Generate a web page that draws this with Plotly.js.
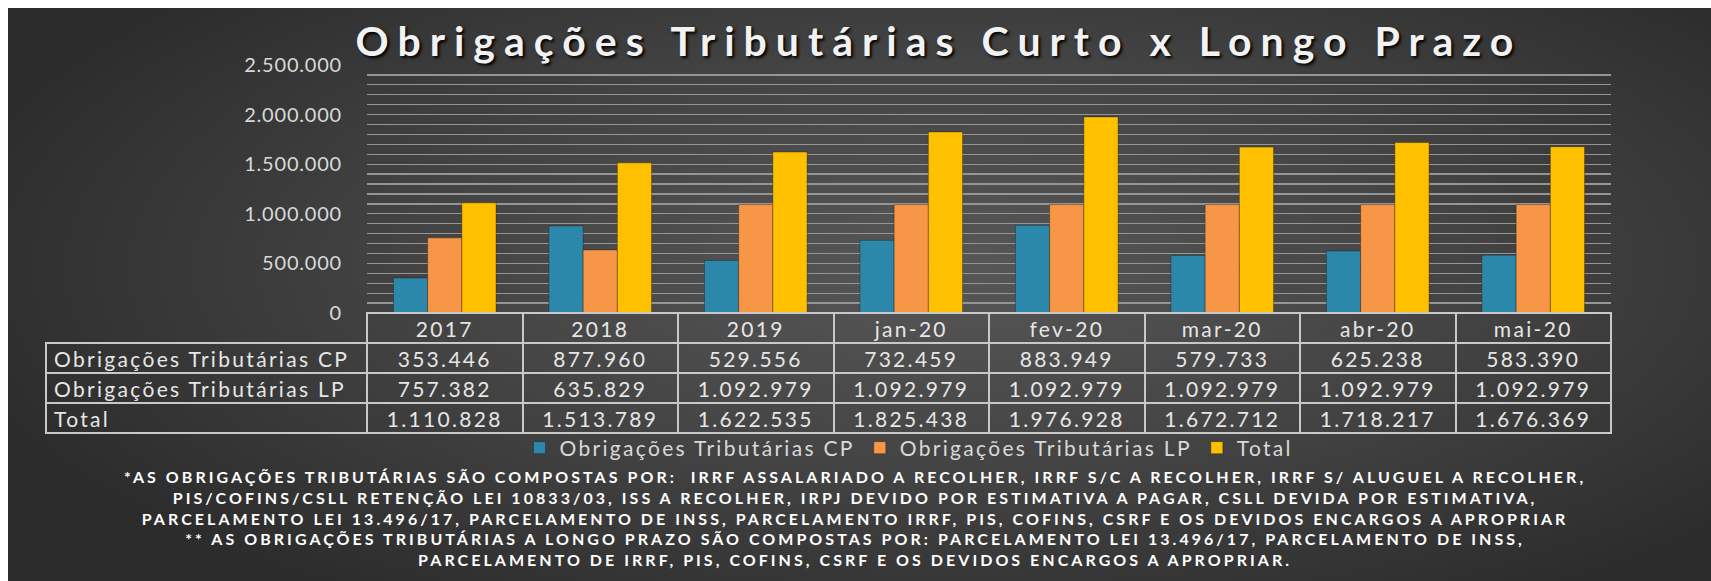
<!DOCTYPE html>
<html>
<head>
<meta charset="utf-8">
<script src="https://cdn.plot.ly/plotly-3.0.1.min.js"></script>
<style>
  html, body { margin: 0; padding: 0; background: #ffffff; }
  #bg { position: absolute; left: 8px; top: 8px; width: 1703px; height: 573px;
        background: radial-gradient(ellipse 60% 70% at 55% 45%, #575757 0%, #444444 50%, #2c2c2c 100%); }
  #chart { position: absolute; left: 0; top: 0; width: 1711px; height: 581px; }
  text { letter-spacing: 0.11em; }
  .ytick text { letter-spacing: 0.04em; }
  text.annotation-text { letter-spacing: 0.19em; }
  text.gtitle { letter-spacing: 9px; }
</style>
</head>
<body>
<div id="bg"></div>
<div id="chart"></div>
<script>
const categories = ['2017', '2018', '2019', 'jan-20', 'fev-20', 'mar-20', 'abr-20', 'mai-20'];
const cpValues = [353446, 877960, 529556, 732459, 883949, 579733, 625238, 583390];
const lpValues = [757382, 635829, 1092979, 1092979, 1092979, 1092979, 1092979, 1092979];
const totalValues = [1110828, 1513789, 1622535, 1825438, 1976928, 1672712, 1718217, 1676369];
const seriesNames = ['Obrigações Tributárias CP', 'Obrigações Tributárias LP', 'Total'];
const yTickVals = [0, 500000, 1000000, 1500000, 2000000, 2500000];
const titleText = 'Obrigações Tributárias Curto x Longo Prazo';
const footnoteLines = [
  '*AS OBRIGAÇÕES TRIBUTÁRIAS SÃO COMPOSTAS POR:  IRRF ASSALARIADO A RECOLHER, IRRF S/C A RECOLHER, IRRF S/ ALUGUEL A RECOLHER,',
  'PIS/COFINS/CSLL RETENÇÃO LEI 10833/03, ISS A RECOLHER, IRPJ DEVIDO POR ESTIMATIVA A PAGAR, CSLL DEVIDA POR ESTIMATIVA,',
  'PARCELAMENTO LEI 13.496/17, PARCELAMENTO DE INSS, PARCELAMENTO IRRF, PIS, COFINS, CSRF E OS DEVIDOS ENCARGOS A APROPRIAR',
  '** AS OBRIGAÇÕES TRIBUTÁRIAS A LONGO PRAZO SÃO COMPOSTAS POR: PARCELAMENTO LEI 13.496/17, PARCELAMENTO DE INSS,',
  'PARCELAMENTO DE IRRF, PIS, COFINS, CSRF E OS DEVIDOS ENCARGOS A APROPRIAR.'
];

const colors = ['#2b88ab', '#f79646', '#ffc000'];
const W = 1711, H = 581;
const plotL = 367, plotR = 1611, plotT = 65, plotB = 313;
const tableL = 46, tableB = 436;

function fmt(n) { return String(n).replace(/\B(?=(\d{3})+(?!\d))/g, '.'); }

const textColor = '#e6e6e6';
const font = 'Lato, "Open Sans", sans-serif';

const series = [cpValues, lpValues, totalValues];
const traces = series.map((vals, i) => ({
  type: 'bar', x: categories, y: vals, name: seriesNames[i],
  marker: { color: colors[i], line: { width: 1, color: 'rgba(20,20,20,0.35)' } },
  hoverinfo: 'skip'
}));

const tableCols = [seriesNames];
categories.forEach((c, j) => tableCols.push([fmt(cpValues[j]), fmt(lpValues[j]), fmt(totalValues[j])]));

const border = '#c8c8c8';
traces.push({
  type: 'table',
  domain: { x: [tableL / W, plotR / W], y: [1 - tableB / H, 1 - plotB / H] },
  columnwidth: [plotL - tableL].concat(categories.map(() => (plotR - plotL) / categories.length)),
  header: {
    values: [''].concat(categories),
    align: 'center', height: 30,
    line: { color: ['rgba(0,0,0,0)'].concat(categories.map(() => border)), width: 2 },
    fill: { color: 'rgba(0,0,0,0)' },
    font: { family: font, size: 21, color: textColor }
  },
  cells: {
    values: tableCols,
    align: ['left'].concat(categories.map(() => 'center')),
    height: 30,
    line: { color: border, width: 2 },
    fill: { color: 'rgba(0,0,0,0)' },
    font: { family: font, size: 21, color: textColor }
  },
  showlegend: false,
  hoverinfo: 'skip'
});

const layout = {
  width: W, height: H,
  margin: { l: 0, r: 0, t: 0, b: 0 },
  paper_bgcolor: 'rgba(0,0,0,0)', plot_bgcolor: 'rgba(0,0,0,0)',
  barmode: 'group', bargap: 0.34, bargroupgap: 0,
  separators: ',.',
  title: {
    text: titleText, x: 939 / W, xanchor: 'center', xref: 'container',
    y: 1 - 42 / H, yanchor: 'middle', yref: 'container',
    font: { family: font, size: 41, weight: 700, color: '#f2f2f2', shadow: '2px 2px 3px #000' }
  },
  xaxis: {
    domain: [plotL / W, plotR / W], type: 'category', range: [-0.5, 7.5],
    showticklabels: false, showgrid: false, zeroline: false, fixedrange: true
  },
  yaxis: {
    domain: [1 - plotB / H, 1 - plotT / H], range: [0, 2500000],
    tickvals: yTickVals, ticktext: yTickVals.map(fmt),
    ticks: 'outside', ticklen: 20, tickcolor: 'rgba(0,0,0,0)',
    tickfont: { family: font, size: 20, color: '#d9d9d9' },
    showgrid: true, gridcolor: '#959595', gridwidth: 1.3,
    minor: { dtick: 100000, showgrid: true, gridcolor: '#959595', gridwidth: 1.3 },
    zeroline: false, showline: false, fixedrange: true
  },
  showlegend: true,
  legend: {
    orientation: 'h', x: 909 / W, xanchor: 'center', y: 1 - 448 / H, yanchor: 'middle',
    font: { family: font, size: 21, color: '#d9d9d9' },
    bgcolor: 'rgba(0,0,0,0)', itemwidth: 30, traceorder: 'normal'
  },
  annotations: [{
    text: footnoteLines.join('<br>'), showarrow: false,
    xref: 'paper', yref: 'paper', x: 855 / W, xanchor: 'center',
    y: 1 - 518 / H, yanchor: 'middle', align: 'center',
    font: { family: font, size: 16, weight: 700, color: '#ffffff' }
  }]
};

Plotly.newPlot('chart', traces, layout, { displayModeBar: false, staticPlot: true });
</script>
</body>
</html>
